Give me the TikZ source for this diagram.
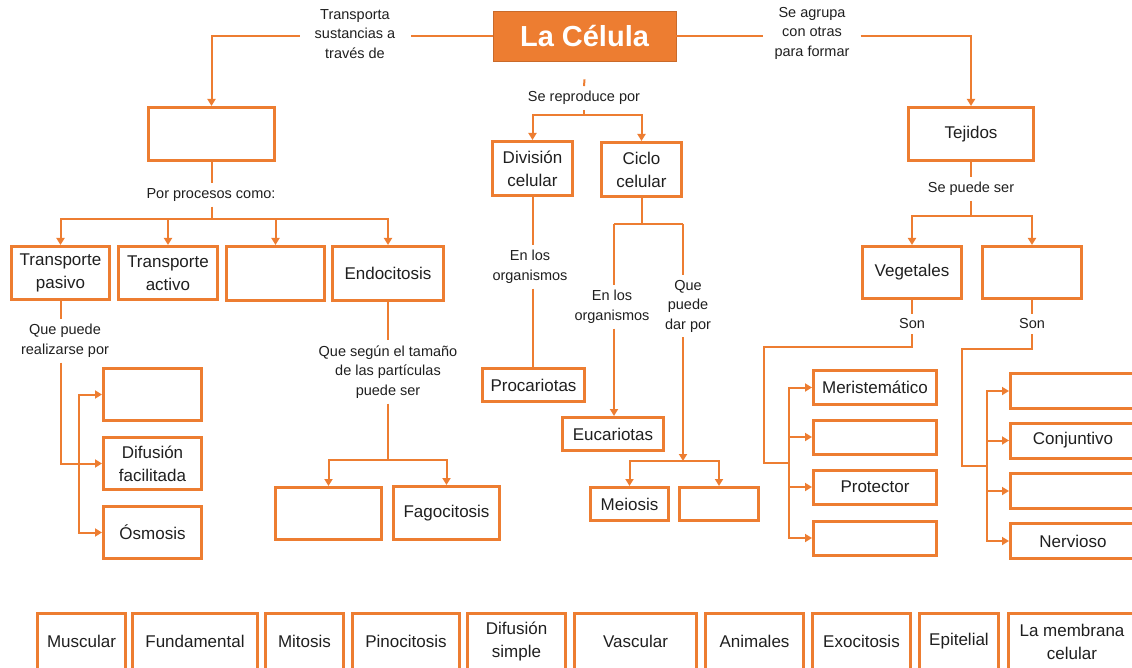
\documentclass[tikz,border=0pt]{standalone}
\usepackage{fontspec}
\setmainfont{Liberation Sans}
\usetikzlibrary{arrows.meta}
\definecolor{orng}{HTML}{ED7D31}

\begin{document}
\begin{tikzpicture}
  [x=1pt, y=-1pt,
   box/.style={draw=orng, line width=3pt, inner sep=0pt, align=center,
               text=black!88, font=\fontsize{17}{23}\selectfont},
   sz/.style 2 args={minimum width=#1, minimum height=#2},
   lbl/.style={inner sep=5pt, align=center, text=black!88,
               font=\fontsize{14.5}{19.5}\selectfont},
   conn/.style={draw=orng, line width=2pt},
   arr/.style={conn, -{Triangle[width=8pt,length=7pt]}},
   celbox/.style={fill=orng, draw=orng!85!black, line width=0.8pt, text=white,
                  font=\fontsize{29}{33}\selectfont\bfseries}]
  \useasboundingbox (0,0) rectangle (1132,668);

  \node[celbox, sz={183pt}{50pt}] (celula) at (584.5,36) {La Célula};

  % transporte
  \node[lbl, inner xsep=15pt] (lblT) at (355,34) {Transporta\\sustancias a\\través de};
  \node[box, sz={126pt}{53pt}] (memb) at (211.5,134) {};
  \draw[conn] (celula.west) -- (celula.west -| lblT.east);
  \draw[arr] (celula.west -| lblT.west) -| (memb.north);
  \node[lbl] (lblP) at (211,195) {Por procesos como:};
  \coordinate (kP) at (211.5,219);
  \draw[conn] (memb.south) -- (memb.south |- lblP.north);
  \draw[conn] (memb.south |- lblP.south) -- (kP);
  \node[box, sz={98pt}{53pt}] (tpas) at (60.5,273) {Transporte\\pasivo};
  \node[box, sz={99pt}{53pt}] (tact) at (168,273) {Transporte\\activo};
  \node[box, sz={98pt}{54pt}] (tvac) at (275.5,273.5) {};
  \node[box, sz={111pt}{54pt}] (endo) at (388,273.5) {Endocitosis};
  \draw[arr] (kP) -| (tpas.north);
  \draw[arr] (kP) -| (tact.north);
  \draw[arr] (kP) -| (tvac.north);
  \draw[arr] (kP) -| (endo.north);

  \node[lbl] (lblQ) at (65,341) {Que puede\\realizarse por};
  \node[box, sz={98pt}{52pt}] (pasv) at (152.5,394.5) {};
  \node[box, sz={98pt}{52pt}] (dfac) at (152.5,463.5) {Difusión\\facilitada};
  \node[box, sz={98pt}{52pt}] (osmo) at (152.5,532.5) {Ósmosis};
  \coordinate (kQ) at (79,463.5);
  \draw[conn] (tpas.south) -- (tpas.south |- lblQ.north);
  \draw[arr] (tpas.south |- lblQ.south) |- (dfac.west);
  \draw[arr] (kQ) |- (pasv.west);
  \draw[arr] (kQ) |- (osmo.west);

  \node[lbl] (lblS) at (388,372) {Que según el tamaño\\de las partículas\\puede ser};
  \node[box, sz={106pt}{52pt}] (endv) at (328.5,513.5) {};
  \node[box, sz={106pt}{53pt}] (fago) at (446.5,513) {Fagocitosis};
  \coordinate (kS) at (388,460);
  \draw[conn] (endo.south) -- (lblS.north);
  \draw[conn] (lblS.south) -- (kS);
  \draw[arr] (kS) -| (endv.north);
  \draw[arr] (kS) -| (fago.north);

  % reproduccion
  \node[lbl] (lblR) at (584,98) {Se reproduce por};
  \node[box, sz={80pt}{54pt}] (divc) at (532.5,168.5) {División\\celular};
  \node[box, sz={80pt}{54pt}] (cicl) at (641.5,169.5) {Ciclo\\celular};
  \coordinate (kR) at (584,115);
  \draw[conn] ([yshift=-18pt]celula.south) -- (lblR.north);
  \draw[conn] (lblR.south) -- (kR);
  \draw[arr] (kR) -| (divc.north);
  \draw[arr] (kR) -| (cicl.north);

  \node[lbl] (lblO1) at (530,267) {En los\\organismos};
  \node[box, sz={102pt}{33pt}] (proca) at (533.5,385) {Procariotas};
  \draw[conn] (divc.south) -- (divc.south |- lblO1.north);
  \draw[conn] (divc.south |- lblO1.south) -- (divc.south |- proca.north);

  \coordinate (kC) at (641.5,224);
  \coordinate (kCl) at (614,224);
  \coordinate (kCr) at (683,224);
  \draw[conn] (cicl.south) -- (kC);
  \draw[conn] (kCl) -- (kCr);
  \node[lbl] (lblO2) at (612,307) {En los\\organismos};
  \node[box, sz={101pt}{33pt}] (euca) at (613,434) {Eucariotas};
  \draw[conn] (kCl) -- (kCl |- lblO2.north);
  \draw[arr] (kCl |- lblO2.south) -- (kCl |- euca.north);

  \node[lbl] (lblD) at (688,306) {Que\\puede\\dar por};
  \node[box, sz={78pt}{33pt}] (meio) at (629.5,504) {Meiosis};
  \node[box, sz={79pt}{33pt}] (mvac) at (719,504) {};
  \coordinate (kD) at (683,461);
  \draw[conn] (kCr) -- (kCr |- lblD.north);
  \draw[arr] (kCr |- lblD.south) -- (kD);
  \draw[arr] (kD) -| (meio.north);
  \draw[arr] (kD) -| (mvac.north);

  % tejidos
  \node[lbl, inner xsep=11pt] (lblA) at (812,33) {Se agrupa\\con otras\\para formar};
  \node[box, sz={125pt}{53pt}] (teji) at (971,134) {Tejidos};
  \draw[conn] (celula.east) -- (celula.east -| lblA.west);
  \draw[arr] (celula.east -| lblA.east) -| (teji.north);
  \node[lbl] (lblE) at (971,189) {Se puede ser};
  \node[box, sz={99pt}{52pt}] (vege) at (912,272.5) {Vegetales};
  \node[box, sz={99pt}{52pt}] (anvc) at (1032,272.5) {};
  \coordinate (kE) at (971,216);
  \draw[conn] (teji.south) -- (lblE.north);
  \draw[conn] (lblE.south) -- (kE);
  \draw[arr] (kE) -| (vege.north);
  \draw[arr] (kE) -| (anvc.north);

  \node[lbl] (lblV1) at (912,324) {Son};
  \node[box, sz={123pt}{34pt}] (meri) at (875,387.5) {Meristemático};
  \node[box, sz={123pt}{34pt}] (veg2) at (875,437) {};
  \node[box, sz={123pt}{34pt}] (prot) at (875,487) {Protector};
  \node[box, sz={123pt}{34pt}] (veg4) at (875,538) {};
  \coordinate (cV1) at (764,347);
  \coordinate (kV1) at (789,463);
  \draw[conn] (vege.south) -- (lblV1.north);
  \draw[conn] (lblV1.south) |- (cV1) |- (kV1);
  \draw[arr] (kV1) |- (meri.west);
  \draw[arr] (kV1) |- (veg2.west);
  \draw[arr] (kV1) |- (prot.west);
  \draw[arr] (kV1) |- (veg4.west);

  \node[lbl] (lblV2) at (1032,324) {Son};
  \node[box, sz={125pt}{35pt}] (ani1) at (1073,391) {};
  \node[box, sz={125pt}{35pt}] (conj) at (1073,440.5) {Conjuntivo};
  \node[box, sz={125pt}{35pt}] (ani3) at (1073,491) {};
  \node[box, sz={125pt}{35pt}] (nerv) at (1073,541) {Nervioso};
  \coordinate (cV2) at (962,349);
  \coordinate (kV2) at (987,466);
  \draw[conn] (anvc.south) -- (lblV2.north);
  \draw[conn] (lblV2.south) |- (cV2) |- (kV2);
  \draw[arr] (kV2) |- (ani1.west);
  \draw[arr] (kV2) |- (conj.west);
  \draw[arr] (kV2) |- (ani3.west);
  \draw[arr] (kV2) |- (nerv.west);

  % opciones
  \node[box, sz={88pt}{57pt}] (musc) at (81.5,641.5) {Muscular};
  \node[box, sz={125pt}{57pt}] (fund) at (195,641.5) {Fundamental};
  \node[box, sz={78pt}{57pt}] (mito) at (304.5,641.5) {Mitosis};
  \node[box, sz={107pt}{57pt}] (pino) at (406,641.5) {Pinocitosis};
  \node[box, sz={98pt}{57pt}] (dsim) at (516.5,641.5) {Difusión\\simple};
  \node[box, sz={122pt}{57pt}] (vasc) at (635.5,641.5) {Vascular};
  \node[box, sz={98pt}{57pt}] (anim) at (754.5,641.5) {Animales};
  \node[box, sz={98pt}{57pt}] (exoc) at (861.5,641.5) {Exocitosis};
  \node[box, sz={79pt}{57pt}] (epit) at (959,641.5) {Epitelial};
  \node[box, sz={128pt}{57pt}] (mcel) at (1072,641.5) {La membrana\\celular};
\end{tikzpicture}
\end{document}
